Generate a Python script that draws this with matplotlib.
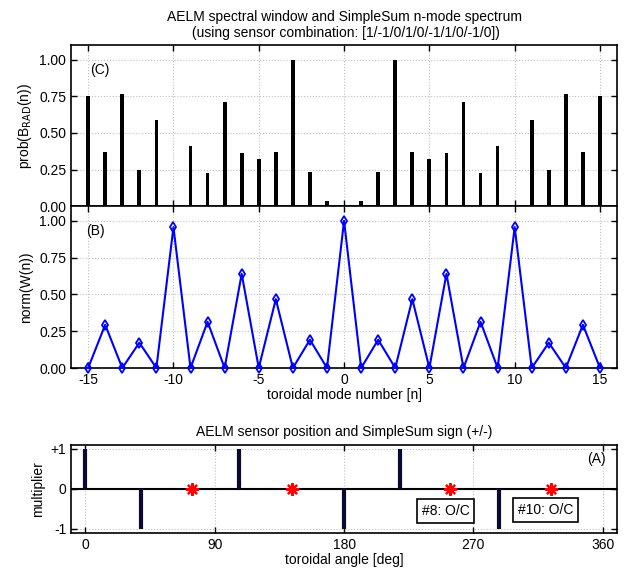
import matplotlib.pyplot as plt
import numpy as np

plt.rcParams['font.family'] = ['Liberation Sans', 'DejaVu Sans']
plt.rcParams['font.size'] = 10
plt.rcParams['axes.unicode_minus'] = False

# toroidal mode numbers and the two spectra
modes = np.arange(-15, 16)
prob_brad = [0.753, 0.370, 0.765, 0.244, 0.591, 0.0, 0.411, 0.224, 0.712, 0.363,
             0.322, 0.372, 1.0, 0.231, 0.034, 0.0, 0.034, 0.231, 1.0, 0.372,
             0.322, 0.363, 0.712, 0.224, 0.411, 0.0, 0.591, 0.244, 0.765, 0.370, 0.753]
norm_w = [0.0, 0.294, 0.0, 0.172, 0.0, 0.957, 0.0, 0.314, 0.0, 0.640,
          0.0, 0.468, 0.0, 0.192, 0.0, 1.0, 0.0, 0.192, 0.0, 0.468,
          0.0, 0.640, 0.0, 0.314, 0.0, 0.957, 0.0, 0.172, 0.0, 0.294, 0.0]

# sensor positions [deg] and SimpleSum multipliers
sensor_angle = np.array([0, 39, 74, 107, 144, 180, 219, 254, 288, 324])
sensor_mult = np.array([1, -1, 0, 1, 0, -1, 1, 0, -1, 0])
open_circuit = ["#8: O/C", "#10: O/C"]

grid_kw = dict(color='#c0c0c0', linestyle=':', linewidth=0.8)


def style(ax):
    ax.tick_params(direction='in', top=True, right=True, length=4, width=1)
    for s in ax.spines.values():
        s.set_linewidth(1.2)
    ax.grid(True, **grid_kw)
    ax.set_axisbelow(True)


fig = plt.figure(figsize=(6.29, 5.71), dpi=100)
ax_c = fig.add_axes([0.113, 0.639, 0.868, 0.282])
ax_b = fig.add_axes([0.113, 0.3555, 0.868, 0.2835])
ax_a = fig.add_axes([0.113, 0.067, 0.868, 0.154])

# (C) probability of B_RAD
ax_c.bar(modes, prob_brad, width=0.22, color='black')
ax_c.set_xlim(-16, 16)
ax_c.set_ylim(0, 1.1)
ax_c.set_xticks(np.arange(-15, 16, 5))
ax_c.set_xticklabels([])
ax_c.set_yticks([0, 0.25, 0.5, 0.75, 1.0])
ax_c.set_yticklabels(['0.00', '0.25', '0.50', '0.75', '1.00'])
ax_c.set_ylabel(r'prob(B$_{\mathrm{RAD}}$(n))')
ax_c.text(-14.9, 0.98, '(C)', va='top', ha='left')
ax_c.set_title('AELM spectral window and SimpleSum n-mode spectrum\n'
               ' (using sensor combination: [1/-1/0/1/0/-1/1/0/-1/0])',
               fontsize=10, pad=6)
style(ax_c)

# (B) normalized spectral window
ax_b.plot(modes, norm_w, color='blue', lw=1.5, marker='d', ms=5.5,
          mfc='none', mec='blue', mew=1.3, clip_on=False, zorder=3)
ax_b.set_xlim(-16, 16)
ax_b.set_ylim(0, 1.1)
ax_b.set_xticks(np.arange(-15, 16, 5))
ax_b.set_yticks([0, 0.25, 0.5, 0.75, 1.0])
ax_b.set_yticklabels(['0.00', '0.25', '0.50', '0.75', '1.00'])
ax_b.set_ylabel('norm(W(n))')
ax_b.set_xlabel('toroidal mode number [n]', labelpad=1)
ax_b.text(-15.1, 0.98, '(B)', va='top', ha='left')
style(ax_b)

# (A) sensor positions and signs
ax_a.axhline(0, color='black', lw=1.5, zorder=2)
on = sensor_mult != 0
ax_a.vlines(sensor_angle[on], 0, sensor_mult[on], color='#0a0a30', lw=3, zorder=3)
ax_a.plot(sensor_angle[~on], sensor_mult[~on], ls='none', marker=(8, 2, 0),
          color='red', mec='red', ms=9, mew=1.6, zorder=4)
ax_a.set_xlim(-10, 370)
ax_a.set_ylim(-1.1, 1.1)
ax_a.set_xticks([0, 90, 180, 270, 360])
ax_a.set_yticks([-1, 0, 1])
ax_a.set_yticklabels(['-1', '0', '+1'])
ax_a.set_ylabel('multiplier')
ax_a.set_xlabel('toroidal angle [deg]', labelpad=1)
ax_a.set_title('AELM sensor position and SimpleSum sign (+/-)', fontsize=10, pad=6)
ax_a.text(362, 0.75, '(A)', va='center', ha='right')
box = dict(boxstyle='square,pad=0.35', fc='white', ec='black', lw=1.2)
ax_a.text(234, -0.56, open_circuit[0], va='center', ha='left', bbox=box)
ax_a.text(301, -0.53, open_circuit[1], va='center', ha='left', bbox=box)
style(ax_a)

fig.savefig('out.png', dpi=100)
